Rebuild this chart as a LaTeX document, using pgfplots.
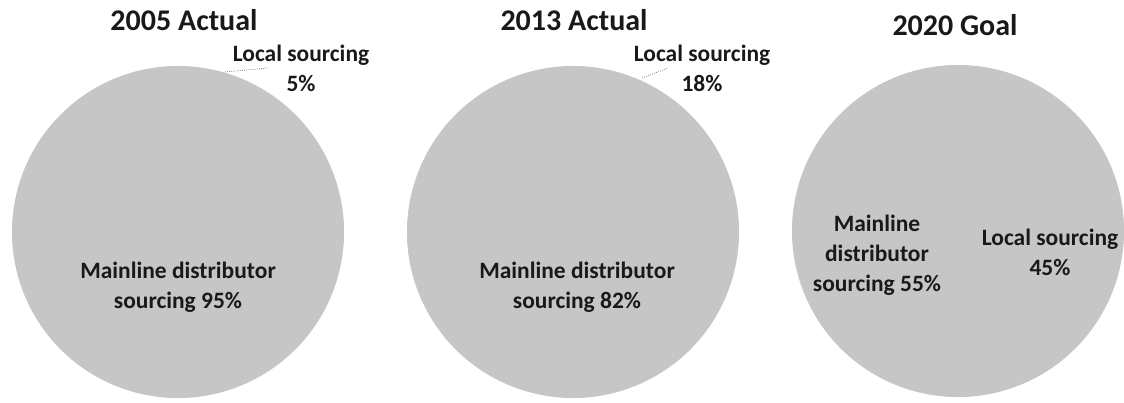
\documentclass[border=0pt]{standalone}
\usepackage{fontspec}
\setmainfont{Carlito}
\usepackage{pgfplots}
\pgfplotsset{compat=1.18}
\definecolor{piegray}{RGB}{198,198,198}
\definecolor{txt}{RGB}{25,25,25}
% pie: centre x, centre y, radius (axis units = px), local share (%)
\newcommand{\piechart}[4]{%
  \filldraw[piegray, line width=0.6pt] (axis cs:#1,#2) -- ++({90}:{#3*0.75pt-0.3pt})
     arc[start angle=90, end angle={90-3.6*#4}, radius={#3*0.75pt-0.3pt}] -- cycle;
  \filldraw[piegray, line width=0.6pt] (axis cs:#1,#2) -- ++({90-3.6*#4}:{#3*0.75pt-0.3pt})
     arc[start angle={90-3.6*#4}, end angle=-270, radius={#3*0.75pt-0.3pt}] -- cycle;
}
\begin{document}
\begin{tikzpicture}
\begin{axis}[hide axis, scale only axis, width=843pt, height=302.25pt,
  xmin=0, xmax=1124, ymin=0, ymax=403, clip=false]
% 2005: local 5, mainline 95
\piechart{178}{171}{166}{5}
% 2013: local 18, mainline 82
\piechart{573}{171}{166}{18}
% 2020 goal: local 45, mainline 55
\piechart{958}{172}{166}{45}

\tikzset{lbl/.style={font=\bfseries\fontsize{17.6}{22.5}\selectfont, text=txt, align=center, inner sep=0pt},
         ttl/.style={font=\bfseries\fontsize{22.5}{27}\selectfont, text=txt, inner sep=0pt}}
\node[ttl] at (axis cs:184,383) {2005 Actual};
\node[ttl] at (axis cs:574,383) {2013 Actual};
\node[ttl] at (axis cs:955,378) {2020 Goal};

\draw[gray, line width=0.6pt, densely dotted] (axis cs:225,331) -- (axis cs:268,335);
\draw[gray, line width=0.6pt, densely dotted] (axis cs:642,325) -- (axis cs:668,335);

\node[lbl] at (axis cs:301,334.5) {Local sourcing\\5\%};
\node[lbl] at (axis cs:702,334.5) {Local sourcing\\18\%};
\node[lbl] at (axis cs:178,116) {Mainline distributor\\sourcing 95\%};
\node[lbl] at (axis cs:577,116) {Mainline distributor\\sourcing 82\%};
\node[lbl] at (axis cs:877,148) {Mainline\\distributor\\sourcing 55\%};
\node[lbl] at (axis cs:1050,150.5) {Local sourcing\\45\%};
\end{axis}
\pgfresetboundingbox
\useasboundingbox (current axis.south west) rectangle (current axis.north east);
\end{tikzpicture}
\end{document}
